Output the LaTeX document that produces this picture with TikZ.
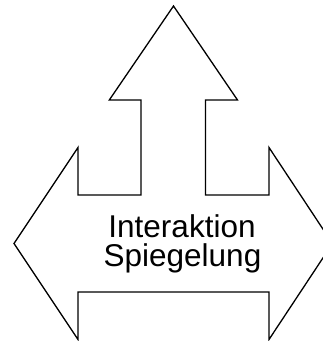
\documentclass[tikz,border=0pt]{standalone}
\usepackage{fontspec}
\setmainfont{Liberation Sans}
\tikzset{
  outline/.style={draw=black, line width=1.3pt, line join=miter, fill=white},
  lbl/.style={anchor=base, inner sep=0pt, font=\fontsize{31.5}{29}\selectfont}
}
\begin{document}
\begin{tikzpicture}[x=1pt, y=-1pt]
\clip (0,0) rectangle (323,341);
% three-way arrow outline
\coordinate (apex) at (173.5,6);
\coordinate (rtip) at (332.5,243.5);
\coordinate (ltip) at (14,243.5);
\draw[outline] (apex) -- (109.3,100) -- (141,100) -- (141,195) -- (78,195)
  -- (78,147.5) -- (ltip) -- (78,339.5) -- (78,292) -- (269,292)
  -- (269,339.5) -- (rtip) -- (269,147.5) -- (269,195) -- (205.5,195)
  -- (205.5,100) -- (237.5,100) -- cycle;
\node[lbl] (l1) at (182,237.5) {Interaktion};
\node[lbl] (l2) at (182.5,266) {Spiegelung};
\end{tikzpicture}
\end{document}
